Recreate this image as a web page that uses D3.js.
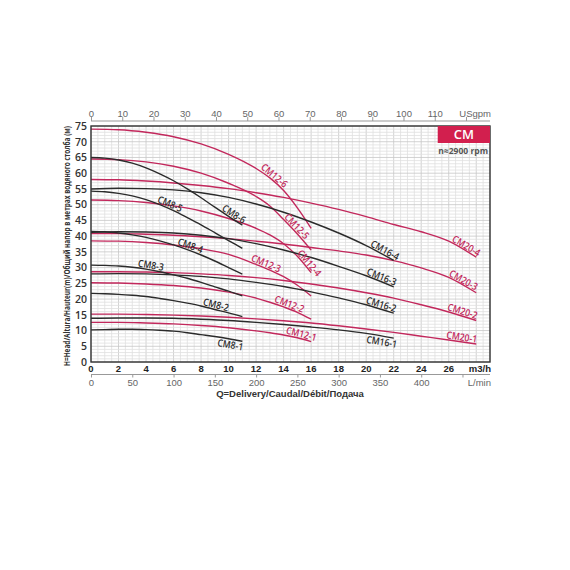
<!DOCTYPE html>
<html><head><meta charset="utf-8">
<script src="https://cdn.jsdelivr.net/npm/d3@7"></script>
<style>body{margin:0;background:#fff}</style>
</head><body><svg id="c" width="570" height="570"></svg>
<script>
// ---------- data ----------
const q8  = [0,1,2,3,4,5,6,7,8,9,10,11];
const cm8_6 = [65,64.8,64.2,63.2,61.7,59.8,57.6,55,52.2,49.2,46.3,43.5];
const cm8_5 = [54.3,54.1,53.6,52.8,51.6,50,48.1,45.9,43.6,41.1,38.6,36.1];
const cm8_4 = [41.5,41.4,41,40.4,39.6,38.5,37.2,35.7,34,32.1,30,27.9];
const cm8_3 = [30.8,30.7,30.5,30.1,29.5,28.7,27.7,26.6,25.3,23.9,22.5,21];
const cm8_2 = [21.8,21.7,21.5,21.2,20.8,20.2,19.5,18.7,17.8,16.7,15.6,14.4];
const cm8_1 = [10.2,10.3,10.4,10.4,10.3,10.1,9.8,9.3,8.7,8.1,7.4,6.6];

const q12 = [0,2,4,6,8,10,12,13,14,15,16];
const cm12_6 = [74,73.8,73,71.6,69.3,66,61.5,58.5,54.5,49,42.5];
const cm12_5 = [64.5,64.3,63.6,62.2,60,56.8,52.6,49.6,45.3,40.7,35.6];
const cm12_4 = [51.5,51.3,50.7,49.6,48,45.6,42.5,40.4,37.6,33.6,28.4];
const cm12_3 = [38.5,38.4,38,37.2,36,34.2,31,29.2,27.1,24.4,21];
const cm12_2 = [25.2,25.1,24.8,24.3,23.5,22.2,20.3,19,17.5,15.8,13.6];
const cm12_1 = [12.6,12.6,12.4,12.1,11.6,10.9,9.9,9.3,8.6,7.7,6.5];

const q16 = [0,2,4,6,8,10,12,14,16,18,20,22];
const cm16_4 = [55,55.2,55.1,54.7,53.8,52.3,50.2,47.6,44.5,41,37,32.3];
const cm16_3 = [41.2,41.4,41.3,41,40.3,39.2,37.6,35.6,33.2,30.4,27.4,23.9];
const cm16_2 = [28,28.1,28,27.7,27.2,26.4,25.3,24,22.3,20.4,18.2,15.5];
const cm16_1 = [13.9,14,14,13.9,13.6,13.2,12.6,11.9,11.1,10.2,9.1,7.6];

const q20 = [0,2,4,6,8,10,12,14,16,18,20,22,24,26,28];
const cm20_4 = [58,57.9,57.5,56.9,56.1,55.1,53.8,52.3,50.5,48.5,46.2,43.7,41.4,38.4,33.3];
const cm20_3 = [40.8,40.8,40.6,40.3,39.8,39.2,38.4,37.5,36.4,35.3,34,32.2,29.9,26.9,22];
const cm20_2 = [28.7,28.7,28.6,28.4,28,27.5,26.8,25.9,24.8,23.5,22,20.3,18.2,15.9,13.2];
const cm20_1 = [15.2,15.2,15.1,14.9,14.6,14.2,13.7,13.1,12.4,11.5,10.5,9.4,8.2,7,5.7];

const curveNames = ["CM20-1","CM20-2","CM20-3","CM20-4","CM12-1","CM12-2","CM12-3","CM12-4","CM12-5","CM12-6",
                    "CM16-1","CM16-2","CM16-3","CM16-4","CM8-1","CM8-2","CM8-3","CM8-4","CM8-5","CM8-6"];
const curveQ = [q20,q20,q20,q20,q12,q12,q12,q12,q12,q12,q16,q16,q16,q16,q8,q8,q8,q8,q8,q8];
const curveH = [cm20_1,cm20_2,cm20_3,cm20_4,cm12_1,cm12_2,cm12_3,cm12_4,cm12_5,cm12_6,
                cm16_1,cm16_2,cm16_3,cm16_4,cm8_1,cm8_2,cm8_3,cm8_4,cm8_5,cm8_6];
// flow (m3/h) where each curve's name label is placed
const labelQ = [26.9,26.9,26.9,27.1,15.2,14.3,12.6,15.6,14.7,13.1,
                21.2,21,21,21.2,10.2,9,4.3,7.1,5.6,10.2];
const labelBelow = ["CM8-1","CM16-1"];

const m3hTicks = [0,2,4,6,8,10,12,14,16,18,20,22,24,26];
const lminTicks = [0,50,100,150,200,250,300,350,400];
const usgpmTicks = [0,10,20,30,40,50,60,70,80,90,100,110];
const headTicks = [0,5,10,15,20,25,30,35,40,45,50,55,60,65,70,75];

// ---------- drawing ----------
const svg = d3.select("#c");
const L = 91, R = 490, T = 126, B = 362;
const qMax = 29;
const x = d3.scaleLinear().domain([0, qMax]).range([L, R]);
const y = d3.scaleLinear().domain([0, 75]).range([B, T]);
const xg = d3.scaleLinear().domain([0, qMax * 4.40287]).range([L, R]);   // USgpm
const xl = d3.scaleLinear().domain([0, qMax * 1000 / 60]).range([L, R]); // L/min

const black = "#2b2b2b", red = "#c2285c";
const font = "'Open Sans', 'Noto Sans', sans-serif";
const afont = "'Liberation Sans', Arial, sans-serif";

svg.append("rect").attr("width",570).attr("height",570).attr("fill","#fff");

// grid
const grid = svg.append("g");
d3.range(0, qMax + 0.001, 0.5).forEach(v => {
  const major = Math.abs(v % 2) < 1e-6;
  grid.append("line").attr("x1", x(v)).attr("x2", x(v)).attr("y1", T).attr("y2", B)
    .attr("stroke", major ? "#c6c6c6" : "#e0e0e0").attr("stroke-width", 0.8);
});
d3.range(0, 76, 1).forEach(v => {
  const major = v % 5 === 0;
  grid.append("line").attr("x1", L).attr("x2", R).attr("y1", y(v)).attr("y2", y(v))
    .attr("stroke", major ? "#c6c6c6" : "#e0e0e0").attr("stroke-width", 0.8);
});

// curves
const line = d3.line().curve(d3.curveMonotoneX);
const gC = svg.append("g");
const colorOf = name => (name.startsWith("CM8") || name.startsWith("CM16")) ? black : red;
curveNames.forEach((name, i) => {
  const pts = curveQ[i].map((q, k) => [x(q), y(curveH[i][k])]);
  gC.append("path").attr("d", line(pts)).attr("fill", "none")
    .attr("stroke", colorOf(name)).attr("stroke-width", 1.4);
});

// labels
function interp(qs, hs, q) {
  for (let k = 0; k < qs.length - 1; k++) {
    if (q >= qs[k] && q <= qs[k+1]) {
      const t = (q - qs[k]) / (qs[k+1] - qs[k]);
      return hs[k] + t * (hs[k+1] - hs[k]);
    }
  }
  return hs[hs.length - 1];
}
curveNames.forEach((name, i) => {
  const qs = curveQ[i], hs = curveH[i], q = labelQ[i];
  const px = x(q), py = y(interp(qs, hs, q));
  const d = 0.4;
  const q0 = Math.max(qs[0], q - d), q1 = Math.min(qs[qs.length-1], q + d);
  const ang = Math.atan2(y(interp(qs,hs,q1)) - y(interp(qs,hs,q0)), x(q1) - x(q0)) * 180 / Math.PI;
  const below = labelBelow.includes(name);
  svg.append("text")
    .attr("transform", `translate(${px},${py}) rotate(${ang}) scale(0.86,1)`)
    .attr("x", 0).attr("y", below ? 9.2 : -1.3)
    .attr("text-anchor", "middle")
    .attr("font-family", font).attr("font-size", 10).attr("font-weight", 600)
    .attr("fill", colorOf(name)).text(name);
});

// frame
svg.append("rect").attr("x", L).attr("y", T).attr("width", R - L).attr("height", B - T)
  .attr("fill", "none").attr("stroke", "#333").attr("stroke-width", 1.4);

// Y axis tick labels
headTicks.forEach(v => {
  svg.append("text").attr("x", L - 4).attr("y", y(v) + 3.8).attr("text-anchor", "end")
    .attr("font-family", font).attr("font-size", 10.5).attr("font-weight", 600)
    .attr("fill", "#333").text(v);
});
// Y axis title
svg.append("text")
  .attr("transform", `translate(70,${(T + B) / 2 + 2}) rotate(-90)`)
  .attr("text-anchor", "middle")
  .attr("font-family", font).attr("font-size", 8.6).attr("font-weight", 700).attr("fill", "#333")
  .attr("textLength", 240).attr("lengthAdjust", "spacingAndGlyphs")
  .text("H=Head/Altura/Hauteur(m)/Общий напор в метрах водяного столба (м)");

// bottom m3/h labels
m3hTicks.forEach(v => {
  svg.append("text").attr("x", x(v)).attr("y", B + 9.5).attr("text-anchor", "middle")
    .attr("font-family", afont).attr("font-size", 9.5).attr("font-weight", 700)
    .attr("fill", "#222").text(v);
});
svg.append("text").attr("x", R + 1).attr("y", B + 9.5).attr("text-anchor", "end")
  .attr("font-family", afont).attr("font-size", 9.5).attr("font-weight", 700)
  .attr("fill", "#222").text("m3/h");

// L/min axis
const axL = d3.axisBottom(xl).tickValues(lminTicks.concat([450])).tickSize(3)
  .tickFormat(d => d === 450 ? "" : d);
const gL = svg.append("g").attr("transform", `translate(0,${B + 12.5})`).call(axL);
gL.select(".domain").attr("stroke", "#999").attr("d", `M${L},0H${R}`);
gL.selectAll(".tick line").attr("stroke", "#999");
gL.selectAll(".tick text").attr("font-family", afont).attr("font-size", 9.5)
  .attr("fill", "#666").attr("dy", null).attr("y", 11.5);
svg.append("text").attr("x", R + 1).attr("y", B + 24).attr("text-anchor", "end")
  .attr("font-family", afont).attr("font-size", 9.5).attr("fill", "#666").text("L/min");

// top USgpm axis
const axG = d3.axisTop(xg).tickValues(usgpmTicks.concat([120])).tickSize(4)
  .tickFormat(d => d === 120 ? "" : d);
const gG = svg.append("g").attr("transform", `translate(0,${T - 5})`).call(axG);
gG.select(".domain").attr("stroke", "#999").attr("d", `M${L},0H${R}`);
gG.selectAll(".tick line").attr("stroke", "#999");
gG.selectAll(".tick text").attr("font-family", afont).attr("font-size", 9.5)
  .attr("fill", "#666").attr("y", -4);
svg.append("text").attr("x", R + 1).attr("y", T - 9).attr("text-anchor", "end")
  .attr("font-family", afont).attr("font-size", 9.5).attr("fill", "#666").text("USgpm");

// X title
svg.append("text").attr("x", 290).attr("y", B + 35).attr("text-anchor", "middle")
  .attr("font-family", afont).attr("font-size", 9.5).attr("font-weight", 700)
  .attr("fill", "#333").text("Q=Delivery/Caudal/Débit/Подача");

// CM badge
svg.append("rect").attr("x", x(25.2)).attr("y", T).attr("width", R - x(25.2)).attr("height", 17)
  .attr("fill", "#d21f4e");
svg.append("text").attr("x", (x(25.2) + R) / 2).attr("y", T + 13).attr("text-anchor", "middle")
  .attr("font-family", font).attr("font-size", 13).attr("font-weight", 600)
  .attr("fill", "#fff").text("CM");
svg.append("text").attr("x", R - 2).attr("y", T + 28).attr("text-anchor", "end")
  .attr("font-family", font).attr("font-size", 8.5).attr("font-weight", 700)
  .attr("fill", "#555").text("n≈2900 rpm");
</script></body></html>
